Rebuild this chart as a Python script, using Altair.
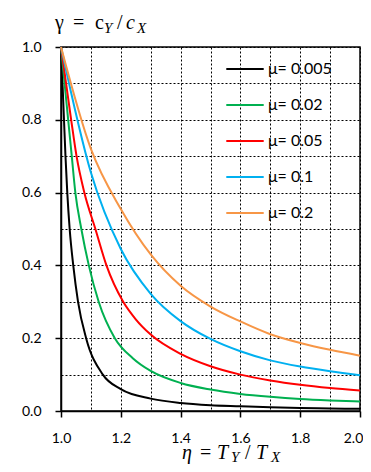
import altair as alt
import pandas as pd

# ---- data ----
series_labels = ["μ= 0.005", "μ= 0.02", "μ= 0.05", "μ= 0.1", "μ= 0.2"]
series_colors = ["#000000", "#00B050", "#FF0000", "#00B0F0", "#F79646"]

eta_005 = [1.0, 1.005, 1.010, 1.015, 1.021, 1.029, 1.041, 1.057, 1.084, 1.14, 1.2, 1.3, 1.4, 1.5, 1.6, 1.7, 1.8, 1.9, 2.0]
gam_005 = [1.0, 0.9, 0.8, 0.7, 0.6, 0.5, 0.4, 0.3, 0.2, 0.1, 0.06, 0.034, 0.022, 0.016, 0.013, 0.010, 0.008, 0.007, 0.006]

eta_02 = [1.0, 1.012, 1.024, 1.036, 1.048, 1.068, 1.093, 1.126, 1.18, 1.24, 1.3, 1.4, 1.5, 1.6, 1.7, 1.8, 1.9, 2.0]
gam_02 = [1.0, 0.9, 0.8, 0.7, 0.6, 0.5, 0.4, 0.3, 0.2, 0.145, 0.11, 0.077, 0.059, 0.047, 0.039, 0.033, 0.029, 0.026]

eta_05 = [1.0, 1.017, 1.034, 1.052, 1.078, 1.115, 1.152, 1.208, 1.25, 1.3, 1.4, 1.5, 1.6, 1.7, 1.8, 1.9, 2.0]
gam_05 = [1.0, 0.9, 0.8, 0.7, 0.6, 0.5, 0.4, 0.3, 0.252, 0.21, 0.157, 0.123, 0.100, 0.084, 0.072, 0.063, 0.056]

eta_1 = [1.0, 1.1, 1.2, 1.3, 1.4, 1.5, 1.6, 1.7, 1.8, 1.9, 2.0]
gam_1 = [1.0, 0.655, 0.445, 0.322, 0.247, 0.198, 0.164, 0.139, 0.122, 0.109, 0.098]

eta_2 = [1.0, 1.1, 1.2, 1.3, 1.4, 1.5, 1.6, 1.7, 1.8, 1.9, 2.0]
gam_2 = [1.0, 0.72, 0.555, 0.43, 0.344, 0.287, 0.246, 0.211, 0.187, 0.168, 0.152]

x_grid = [1.0, 1.1, 1.2, 1.3, 1.4, 1.5, 1.6, 1.7, 1.8, 1.9, 2.0]
y_grid = [0.0, 0.1, 0.2, 0.3, 0.4, 0.5, 0.6, 0.7, 0.8, 0.9, 1.0]

rows = []
for lab, xs, ys in zip(series_labels,
                       [eta_005, eta_02, eta_05, eta_1, eta_2],
                       [gam_005, gam_02, gam_05, gam_1, gam_2]):
    for i, (a, b) in enumerate(zip(xs, ys)):
        rows.append({"series": lab, "eta": a, "gamma": b, "order": i})
df = pd.DataFrame(rows)

FONT = "Lato"
MATH = "Liberation Serif"

tick_cond = {"condition": {"test": "round(datum.value*10) % 2 == 0", "value": "black"},
             "value": "transparent"}
label_expr = "round(datum.value*10) % 2 == 0 ? format(datum.value, '.1f') : ''"

def make_axis(vals, last_shift=0):
    extra = {}
    if last_shift:
        extra["labelOffset"] = {"condition": {"test": "datum.value > 1.95", "value": last_shift},
                                "value": 0}
    return alt.Axis(values=vals, grid=True, gridDash=[2, 2], gridColor="#000000",
                    gridWidth=1, domainColor="black", domainWidth=1.5,
                    tickColor=tick_cond, tickSize=6, tickWidth=1.5,
                    labelExpr=label_expr, labelFlush=False, labelOverlap=False,
                    labelFont=FONT, labelFontSize=14, labelColor="black",
                    labelPadding=14, title=None, **extra)

lines = alt.Chart(df).mark_line(strokeWidth=2, interpolate="monotone").encode(
    x=alt.X("eta:Q", scale=alt.Scale(domain=[1, 2], nice=False),
            axis=make_axis(x_grid, last_shift=-7)),
    y=alt.Y("gamma:Q", scale=alt.Scale(domain=[0, 1], nice=False), axis=make_axis(y_grid)),
    color=alt.Color("series:N", sort=series_labels,
                    scale=alt.Scale(domain=series_labels, range=series_colors),
                    legend=alt.Legend(title=None, orient="none", legendX=164, legendY=2,
                                      symbolType="stroke", symbolSize=1400,
                                      symbolStrokeWidth=2, labelFont=FONT,
                                      labelFontSize=16, labelColor="black",
                                      rowPadding=8, labelOffset=3)),
    order="order:Q",
)

# plot origin is at page (61, 47)
def txt(s, px, py, size, italic=False):
    return alt.Chart(pd.DataFrame({"t": [s]})).mark_text(
        align="left", baseline="alphabetic", font=MATH, fontSize=size,
        fontStyle="italic" if italic else "normal", color="black"
    ).encode(text="t:N", x=alt.value(px - 61), y=alt.value(py - 47))

title_parts = [
    txt("γ", 55, 29, 20),
    txt("=", 73, 29, 20),
    txt("c", 95, 29, 20),
    txt("Y", 104, 33, 15, True),
    txt("/", 117, 29, 20),
    txt("c", 126, 29, 20, True),
    txt("X", 137, 33, 15, True),
    txt("η", 182, 459, 20, True),
    txt("=", 200, 459, 20),
    txt("T", 217, 459, 20, True),
    txt("Y", 231, 462, 15, True),
    txt("/", 245, 459, 20),
    txt("T", 256, 459, 20, True),
    txt("X", 271, 462, 15, True),
]

chart = alt.layer(lines, *title_parts).properties(
    width=299, height=364,
    autosize=alt.AutoSizeParams(type="none"),
    padding={"left": 53, "top": 39, "right": 3, "bottom": 53},
).configure_view(stroke="black", strokeWidth=1.5)

chart.save("out.html", embed_options={"renderer": "svg", "actions": False})
